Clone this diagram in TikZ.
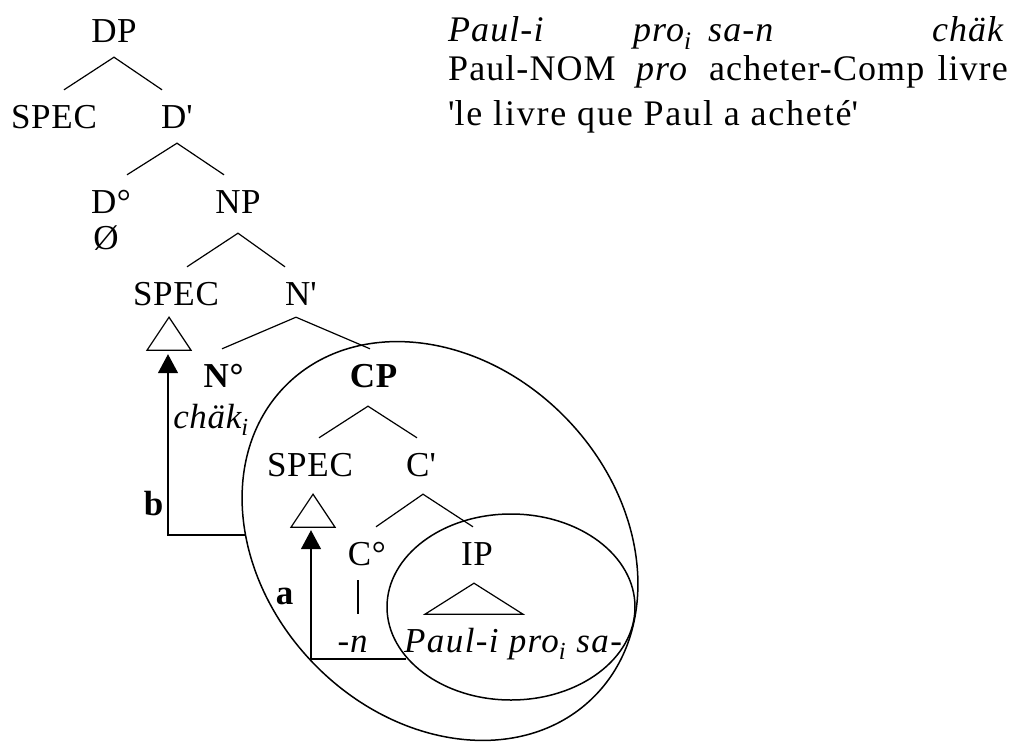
\documentclass[tikz,border=0pt]{standalone}
\usepackage{fontspec}
\setmainfont{Liberation Serif}[LetterSpace=2]
\usetikzlibrary{arrows.meta}

\begin{document}
\begin{tikzpicture}[
    x=1pt, y=-1pt,
    font=\fontsize{35}{42}\selectfont,
    cat/.style={inner xsep=0pt, inner ysep=15pt, text height=23pt, text depth=0pt, anchor=base},
    word/.style={inner sep=0pt, anchor=base west, font=\fontsize{36}{42}\selectfont\addfontfeature{LetterSpace=3}},
    branch/.style={line width=1.2pt},
    ring/.style={line width=1.5pt},
    move/.style={-{Triangle[width=20pt, length=19pt]}, line width=1.6pt}
]
\useasboundingbox (0,0) rectangle (1013,742);

\node[cat] (dp) at (114,42) {DP};
\node[cat] (specA) at (54,128) {SPEC};
\node[cat] (dbar) at (177,128) {D\textquotesingle};
\node[cat] (dzero) at (111,213) {D°};
\node[cat] (np) at (238,213) {NP};
\node[cat] (nullD) at (106,249) {Ø};
\node[cat] (specB) at (176,305) {SPEC};
\node[cat] (nbar) at (301,305) {N\textquotesingle};
\node[cat] (nzero) at (224,387) {\textbf{N°}};
\node[cat] (cp) at (374,387) {\textbf{CP}};
\node[cat] (chak) at (211,428) {\textit{chäk\textsubscript{i}}};
\node[cat] (specC) at (310,476) {SPEC};
\node[cat] (cbar) at (421,476) {C\textquotesingle};
\node[cat] (czero) at (367,565) {C°};
\node[cat] (ip) at (477,565) {IP};
\node[cat] (suffN) at (353,652) {\textit{-n}};
\node[cat, anchor=base west, inner sep=0pt, font=\fontsize{35}{42}\selectfont\addfontfeature{LetterSpace=4}] (paulIP) at (404,652) {\textit{Paul-i pro\textsubscript{i} sa-}};
\node[cat] (labA) at (285,604) {\textbf{a}};
\node[cat] (labB) at (154,515) {\textbf{b}};

\node[word] (gPaul) at (448,41) {\textit{Paul-i}};
\node[word] (gPro) at (633,41) {\textit{pro\textsubscript{i}}};
\node[word] (gSa) at (708,41) {\textit{sa-n}};
\node[word, anchor=base east] (gChak) at (1005,41) {\textit{chäk}};
\node[word] (tPaul) at (448,80) {Paul-NOM};
\node[word] (tPro) at (636,80) {\textit{pro}};
\node[word] (tAch) at (709,80) {acheter-Comp};
\node[word, anchor=base east] (tLivre) at (1008,80) {livre};
\node[word, font=\fontsize{36}{42}\selectfont\addfontfeature{LetterSpace=5}] (trans) at (448,125) {\textquotesingle le livre que Paul a acheté\textquotesingle};

\draw[branch] ([xshift=10pt]specA.north) -- (dp.south) -- ([xshift=-15pt]dbar.north);
\draw[branch] ([xshift=16pt]dzero.north) -- (dbar.south) -- ([xshift=-14pt]np.north);
\draw[branch] ([xshift=11pt]specB.north) -- ([yshift=-5pt]np.south) -- ([xshift=-16pt]nbar.north);
\draw[branch] ([xshift=-2pt]nzero.north) -- ([shift={(-5pt,3pt)}]nbar.south) -- ([xshift=-4pt]cp.north);
\draw[branch] ([xshift=9pt]specC.north) -- ([shift={(-6pt,-4pt)}]cp.south) -- ([xshift=-4pt]cbar.north);
\draw[branch] ([xshift=9pt]czero.north) -- ([shift={(2pt,-3pt)}]cbar.south) -- ([xshift=-4pt]ip.north);
\draw[branch] ([xshift=-9pt]czero.south) -- ([xshift=5pt]suffN.north);

\draw[branch] ([xshift=-7pt, yshift=3pt]specB.south) -- ++(-22,33) -- ++(44,0) -- cycle;
\draw[branch] ([xshift=3pt, yshift=-3pt]specC.south) -- ++(-22,33) -- ++(44,0) -- cycle;
\draw[branch] ([xshift=-3pt, yshift=-3pt]ip.south) -- ++(-49,31) -- ++(98,0) -- cycle;

\draw[ring, rotate around={-46:(440,541)}] (440,541) ellipse [x radius=219, y radius=176];
\draw[ring] (511,607) ellipse [x radius=124, y radius=93];

\coordinate (trB) at ([xshift=-8pt, yshift=-34pt]specB.south);
\coordinate (trC) at ([xshift=1pt, yshift=-39pt]specC.south);
\coordinate (bstart) at (245,535);
\coordinate (astart) at (406,659);
\draw[move] (bstart) -| (trB);
\draw[move] (astart) -| (trC);
\end{tikzpicture}
\end{document}
